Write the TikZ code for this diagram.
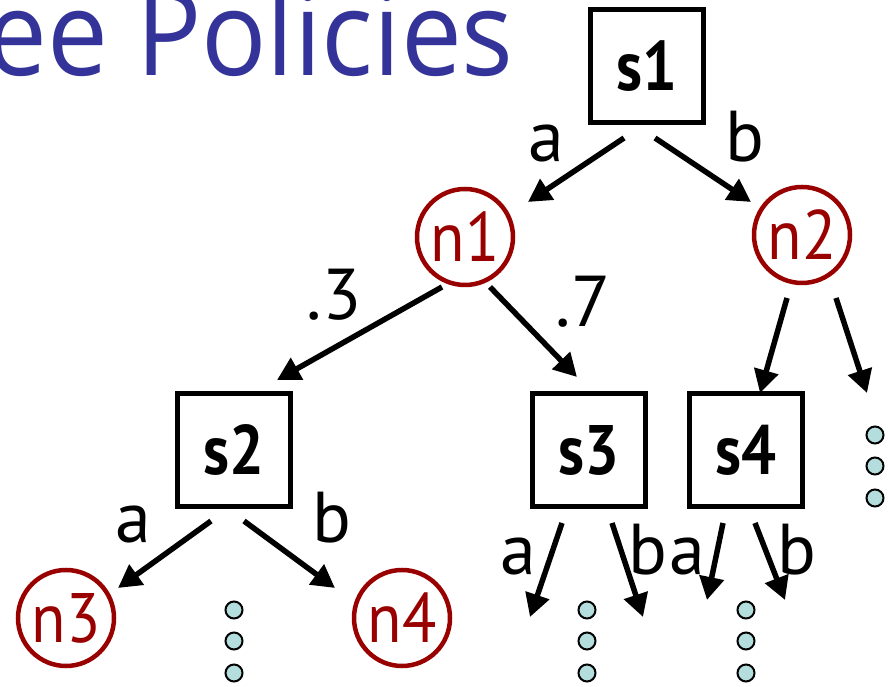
\documentclass[tikz,border=0pt]{standalone}
\usepackage{fontspec}
\setmainfont{PT Sans}
\newfontfamily\titlefont{Open Sans}[FakeStretch=0.92]
\usetikzlibrary{arrows.meta}
\definecolor{titleblue}{RGB}{51,51,153}
\definecolor{chancered}{RGB}{153,0,0}
\definecolor{dotcyan}{RGB}{180,222,222}
\tikzset{
  state/.style={draw, line width=5pt, minimum size=113pt, inner sep=0pt, font=\fontsize{70}{72}\selectfont\bfseries\addfontfeature{FakeStretch=0.88}},
  chance/.style={draw=chancered, text=chancered, circle, line width=4.5pt, minimum size=96pt, inner sep=0pt, font=\fontsize{70}{72}\selectfont\addfontfeature{FakeStretch=0.9}},
  act/.style={anchor=base, inner sep=0pt, font=\fontsize{72}{74}\selectfont},
  arr/.style={line width=5.5pt, -{Triangle[length=23pt,width=24pt]}},
  dot/.style={circle, draw, fill=dotcyan, line width=2pt, minimum size=17pt, inner sep=0pt}
}
\begin{document}
\begin{tikzpicture}[x=1pt, y=1pt]
  \useasboundingbox (0,0) rectangle (888,687);
  \node[anchor=base east, inner sep=0pt, text=titleblue, font=\fontsize{118}{120}\titlefont] (title) at (514,611) {ee Policies};
  % decision nodes and chance nodes
  \node[state] (s1) at (647,621) {s1};
  \node[chance] (n1) at (465,450) {n1};
  \node[chance] (n2) at (802,452) {n2};
  \node[state] (s2) at (234,237) {s2};
  \node[state] (s3) at (589,237) {s3};
  \node[state] (s4) at (746,237) {s4};
  \node[chance] (n3) at (66,69) {n3};
  \node[chance] (n4) at (402,69) {n4};
  % the ... columns
  \foreach \c/\x/\y in {r/875/252, u/234/77, v/587/77, w/746/77} {
    \node[dot] (\c1) at (\x,\y) {};
    \node[dot] (\c2) at (\x,\y-31) {};
    \node[dot] (\c3) at (\x,\y-63) {};
  }
  % branches
  \draw[arr] ([shift={(-23,-72)}]s1.center) -- ([shift={(63,35)}]n1.center);
  \draw[arr] ([shift={(8,-72)}]s1.center) -- ([shift={(-51,33)}]n2.center);
  \draw[arr] ([shift={(-23,-50)}]n1.center) -- ([shift={(43,70)}]s2.center);
  \draw[arr] ([shift={(25,-50)}]n1.center) -- ([shift={(-12,73)}]s3.center);
  \draw[arr] ([shift={(-15,-63)}]n2.center) -- ([shift={(14,57)}]s4.center);
  \draw[arr] ([shift={(34,-63)}]n2.center) -- ([shift={(-8,42)}]r1.center);
  \draw[arr] ([shift={(-23,-71)}]s2.center) -- ([shift={(52,30)}]n3.center);
  \draw[arr] ([shift={(10,-71)}]s2.center) -- ([shift={(-67,30)}]n4.center);
  \draw[arr] ([shift={(-27,-73)}]s3.center) -- ++(-32,-94);
  \draw[arr] ([shift={(23,-73)}]s3.center) -- ++(31,-94);
  \draw[arr] ([shift={(-23,-73)}]s4.center) -- ++(-16,-77);
  \draw[arr] ([shift={(9,-73)}]s4.center) -- ++(30,-77);
  % labels
  \node[act] (la1) at (546,525) {a};
  \node[act] (lb1) at (745,525) {b};
  \node[act] (p3) at (334,367) {.3};
  \node[act] (p7) at (583,360) {.7};
  \node[act] (la2) at (133,144) {a};
  \node[act] (lb2) at (332,144) {b};
  \node[act] (la3) at (518,112) {a};
  \node[act] (lb3) at (648,112) {b};
  \node[act] (la4) at (687,112) {a};
  \node[act] (lb4) at (797,112) {b};
\end{tikzpicture}
\end{document}
